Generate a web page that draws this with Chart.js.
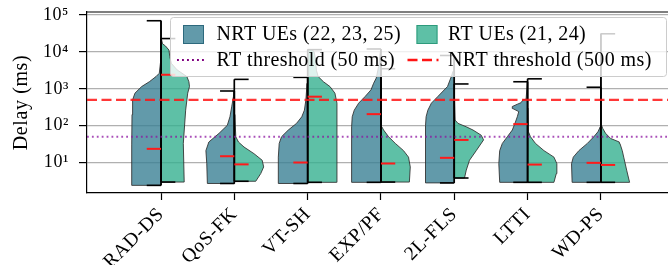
<!DOCTYPE html>
<html><head><meta charset="utf-8">
<script src="https://cdn.jsdelivr.net/npm/chart.js@4.4.1/dist/chart.umd.min.js"></script>
<style>html,body{margin:0;padding:0;background:#fff}canvas{display:block}</style>
</head><body>
<canvas id="c" width="668" height="265"></canvas>
<script>
// ---------- data (delays in ms) ----------
const categories = ['RAD-DS','QoS-FK','VT-SH','EXP/PF','2L-FLS','LTTI','WD-PS'];
const nrtLabel = 'NRT UEs (22, 23, 25)';
const rtLabel = 'RT UEs (21, 24)';
const rtThresholdLabel = 'RT threshold (50 ms)';
const nrtThresholdLabel = 'NRT threshold (500 ms)';
const rtThreshold = 50;
const nrtThreshold = 500;

const nrtMedian = [23.5, 14.8, 10, 205, 13.4, 110, 9.8];
const rtMedian  = [2400, 8.9, 610, 9.4, 41, 8.8, 8.6];
const nrtMin = [2.4, 2.7, 2.7, 2.9, 2.8, 2.9, 2.9];
const nrtMax = [70000, 870, 2040, 12000, 8000, 1550, 1100];
const rtMin  = [2.95, 3.1, 2.9, 2.95, 3.8, 2.9, 2.9];
const rtMax  = [23000, 1800, 11500, 3500, 1350, 1860, 31000];

// violin profiles: [delay ms, relative density]
const nrtProfiles = [
  [[2.4,1.0],[30,1.0],[200,0.99],[500,0.97],[760,0.89],[1150,0.66],[1550,0.40],[2150,0.17],[2630,0.06],[5000,0.02],[20000,0.01],[70000,0.005]],
  [[2.7,0.92],[9.3,0.94],[21,0.97],[36,0.87],[62,0.52],[102,0.24],[174,0.15],[324,0.09],[617,0.03],[870,0.01]],
  [[2.7,1.0],[14,1.0],[33,0.97],[50,0.89],[76,0.66],[115,0.38],[174,0.2],[263,0.11],[500,0.06],[1400,0.02],[2040,0.005]],
  [[2.9,1.0],[93,1.0],[174,0.98],[263,0.91],[407,0.76],[617,0.54],[933,0.34],[1410,0.25],[1950,0.16],[4000,0.08],[12000,0.01]],
  [[2.8,0.98],[100,0.98],[174,0.96],[263,0.9],[407,0.78],[617,0.56],[1150,0.23],[2140,0.1],[3000,0.04],[8000,0.01]],
  [[2.9,0.95],[9.3,0.98],[21,0.95],[33,0.86],[50,0.69],[76,0.52],[115,0.43],[174,0.35],[240,0.3],[290,0.5],[330,0.52],[380,0.35],[420,0.22],[500,0.16],[520,0.05],[1550,0.005]],
  [[2.9,0.98],[9.3,1.0],[14,0.94],[21,0.75],[33,0.46],[50,0.24],[68,0.1],[93,0.02],[300,0.01],[1100,0.005]]
];
const rtProfiles = [
  [[2.95,0.79],[33,0.76],[263,0.84],[760,0.91],[1150,0.97],[1550,0.95],[2150,0.88],[3240,0.55],[4900,0.35],[7400,0.3],[11200,0.27],[14500,0.15],[16600,0.05],[23000,0.01]],
  [[3.1,0.73],[5,0.9],[7.6,1.0],[11.5,0.95],[17.4,0.67],[26.3,0.33],[36,0.14],[50,0.05],[200,0.015],[1800,0.005]],
  [[2.9,0.99],[100,1.0],[407,1.0],[760,0.93],[1150,0.76],[1550,0.54],[2140,0.36],[3160,0.3],[6300,0.27],[10000,0.22],[11500,0.15]],
  [[2.95,0.97],[7.6,1.0],[14,0.94],[21,0.77],[33,0.49],[50,0.26],[76,0.09],[93,0.03],[500,0.01],[3500,0.005]],
  [[3.8,0.35],[6.2,0.41],[11.5,0.52],[21,0.75],[41,1.0],[55,0.92],[76,0.64],[93,0.41],[115,0.13],[141,0.03],[500,0.01],[1350,0.005]],
  [[2.9,0.9],[5,0.98],[9.3,1.0],[14,0.9],[21,0.56],[33,0.27],[50,0.1],[68,0.03],[300,0.01],[1860,0.005]],
  [[2.9,0.98],[6.2,0.88],[14,0.78],[21,0.73],[33,0.65],[36,0.63],[45,0.33],[62,0.16],[85,0.06],[100,0.03],[1000,0.01],[31000,0.005]]
];

const yTicks = [10, 100, 1000, 10000, 100000];
const yTickLabels = ['10\u00B9','10\u00B2','10\u00B3','10\u2074','10\u2075'];
const yLimits = [1.49, 120800];
const xLimits = [-1.01, 6.916];

// ---------- styles ----------
const halfW = 0.4, capW = 0.195;
const blueFill = 'rgba(59,129,149,0.8)';
const greenFill = 'rgba(54,176,144,0.8)';
const edgeColor = 'rgba(45,45,45,0.85)';
const serif = "'Liberation Serif', 'Times New Roman', serif";

function lineDs(data, color, width, order, extra) {
  return Object.assign({type:'line', data, borderColor:color, borderWidth:width, pointRadius:0,
    pointHoverRadius:0, fill:false, tension:0, order, borderCapStyle:'butt'}, extra || {});
}
function violin(i, profile, side, fillColor) {
  const lo = profile[0][0], hi = profile[profile.length-1][0];
  const pts = [{x:i, y:lo}];
  profile.forEach(([v,d]) => pts.push({x: i + side*halfW*d, y: v}));
  pts.push({x:i, y:hi});
  pts.push({x:i, y:lo});
  return lineDs(pts, edgeColor, 1, 10, {fill:'shape', backgroundColor:fillColor, borderJoinStyle:'round'});
}

const datasets = [];
categories.forEach((c, i) => {
  datasets.push(violin(i, nrtProfiles[i], -1, blueFill));
  datasets.push(violin(i, rtProfiles[i], 1, greenFill));
  datasets.push(lineDs([{x:i,y:nrtMin[i]},{x:i,y:nrtMax[i]}], '#000', 1.6, 5));
  datasets.push(lineDs([{x:i,y:rtMin[i]},{x:i,y:rtMax[i]}], '#000', 1.6, 5));
  datasets.push(lineDs([{x:i-capW,y:nrtMin[i]},{x:i,y:nrtMin[i]}], '#000', 1.6, 5));
  datasets.push(lineDs([{x:i-capW,y:nrtMax[i]},{x:i,y:nrtMax[i]}], '#000', 1.6, 5));
  datasets.push(lineDs([{x:i,y:rtMin[i]},{x:i+capW,y:rtMin[i]}], '#000', 1.6, 5));
  datasets.push(lineDs([{x:i,y:rtMax[i]},{x:i+capW,y:rtMax[i]}], '#000', 1.6, 5));
  datasets.push(lineDs([{x:i-capW,y:nrtMedian[i]},{x:i,y:nrtMedian[i]}], '#ff1a1a', 2, 3));
  datasets.push(lineDs([{x:i,y:rtMedian[i]},{x:i+capW,y:rtMedian[i]}], '#ff1a1a', 2, 3));
});
datasets.push(lineDs([{x:xLimits[0],y:nrtThreshold},{x:xLimits[1],y:nrtThreshold}], 'rgba(255,20,20,0.85)', 2.4, 1, {borderDash:[10,4.5]}));
datasets.push(lineDs([{x:xLimits[0],y:rtThreshold},{x:xLimits[1],y:rtThreshold}], 'rgba(140,20,160,0.75)', 1.8, 1, {borderDash:[1.8,3.1]}));

// ---------- plugins ----------
const framePlugin = {
  id: 'frameLegend',
  beforeDraw(chart) {
    chart.ctx.letterSpacing = '0.6px';
  },
  afterDatasetsDraw(chart) {
    const ctx = chart.ctx, ca = chart.chartArea;
    ctx.save();
    // top spine
    ctx.strokeStyle = '#000'; ctx.lineWidth = 1.2;
    ctx.beginPath(); ctx.moveTo(ca.left, ca.top); ctx.lineTo(ca.right, ca.top); ctx.stroke();
    // legend box
    const x0 = ca.left + 83.5, y0 = ca.top + 5.5, x1 = ca.right - 1.5, y1 = ca.top + 64.5, r = 3;
    ctx.beginPath();
    ctx.moveTo(x0 + r, y0); ctx.lineTo(x1 - r, y0); ctx.arcTo(x1, y0, x1, y0 + r, r);
    ctx.lineTo(x1, y1 - r); ctx.arcTo(x1, y1, x1 - r, y1, r);
    ctx.lineTo(x0 + r, y1); ctx.arcTo(x0, y1, x0, y1 - r, r);
    ctx.lineTo(x0, y0 + r); ctx.arcTo(x0, y0, x0 + r, y0, r);
    ctx.closePath();
    ctx.fillStyle = 'rgba(255,255,255,0.8)'; ctx.fill();
    ctx.strokeStyle = '#cccccc'; ctx.lineWidth = 1; ctx.stroke();
    // row 1 patches
    const col1 = ca.left + 96, col2 = ca.left + 329.5;
    const row1 = ca.top + 13, row2 = ca.top + 48;
    ctx.lineWidth = 1;
    ctx.fillStyle = blueFill; ctx.fillRect(col1, row1, 21, 19);
    ctx.strokeStyle = 'rgba(40,100,120,0.9)'; ctx.strokeRect(col1 + 0.5, row1 + 0.5, 20, 18);
    ctx.fillStyle = greenFill; ctx.fillRect(col2, row1, 21, 19);
    ctx.strokeStyle = 'rgba(40,150,120,0.9)'; ctx.strokeRect(col2 + 0.5, row1 + 0.5, 20, 18);
    // row 2 lines
    ctx.strokeStyle = 'rgba(128,0,128,1)'; ctx.lineWidth = 1.9; ctx.setLineDash([1.9, 3.1]);
    ctx.beginPath(); ctx.moveTo(col1 - 6, row2); ctx.lineTo(col1 + 24, row2); ctx.stroke();
    ctx.strokeStyle = 'rgba(255,20,20,1)'; ctx.lineWidth = 2.4; ctx.setLineDash([10, 4.5]);
    ctx.beginPath(); ctx.moveTo(col2 - 9, row2); ctx.lineTo(col2 + 22, row2); ctx.stroke();
    ctx.setLineDash([]);
    // texts
    ctx.letterSpacing = '0.4px';
    ctx.fillStyle = '#000'; ctx.font = "20px " + serif; ctx.textBaseline = 'alphabetic'; ctx.textAlign = 'left';
    ctx.fillText(nrtLabel, ca.left + 129.5, ca.top + 27.5);
    ctx.fillText(rtLabel, ca.left + 361, ca.top + 27.5);
    ctx.fillText(rtThresholdLabel, ca.left + 129.5, ca.top + 53.7);
    ctx.fillText(nrtThresholdLabel, ca.left + 361, ca.top + 53.7);
    ctx.restore();
  }
};

new Chart(document.getElementById('c'), {
  type: 'line',
  data: { datasets },
  options: {
    responsive: false, devicePixelRatio: 1, animation: false,
    layout: { padding: { top: 12, right: 0, left: 0, bottom: 0 } },
    plugins: { legend: { display: false }, tooltip: { enabled: false } },
    events: [],
    scales: {
      x: {
        type: 'linear', min: xLimits[0], max: xLimits[1],
        afterBuildTicks: s => { s.ticks = categories.map((c, i) => ({ value: i })); },
        afterFit: s => { s.height = 72; s.paddingLeft = 0; s.paddingRight = 0; },
        grid: { drawOnChartArea: false, drawTicks: true, tickLength: 7, tickColor: '#000', tickWidth: 1.2 },
        border: { display: true, color: '#000', width: 1.2 },
        ticks: { autoSkip: false, minRotation: 45, maxRotation: 45, padding: 3, color: '#000',
          font: { family: serif, size: 19.5 }, callback: v => categories[v] }
      },
      y: {
        type: 'logarithmic', min: yLimits[0], max: yLimits[1],
        afterBuildTicks: s => { s.ticks = yTicks.map(v => ({ value: v, major: true })); },
        afterFit: s => { s.width = 87; s.paddingTop = 0; s.paddingBottom = 0; },
        grid: { color: '#b0b0b0', lineWidth: 1.2, drawTicks: true, tickLength: 8, tickColor: '#000', tickWidth: 1.2 },
        border: { display: true, color: '#000', width: 1.2 },
        ticks: { padding: 10, color: '#000', font: { family: serif, size: 18 },
          callback: v => { const k = yTicks.indexOf(v); return k >= 0 ? yTickLabels[k] : ''; } },
        title: { display: true, text: 'Delay (ms)', color: '#000', font: { family: serif, size: 20, lineHeight: 1.2 },
          padding: { top: 9.5, bottom: 0 } }
      }
    }
  },
  plugins: [framePlugin]
});
</script>
</body></html>
